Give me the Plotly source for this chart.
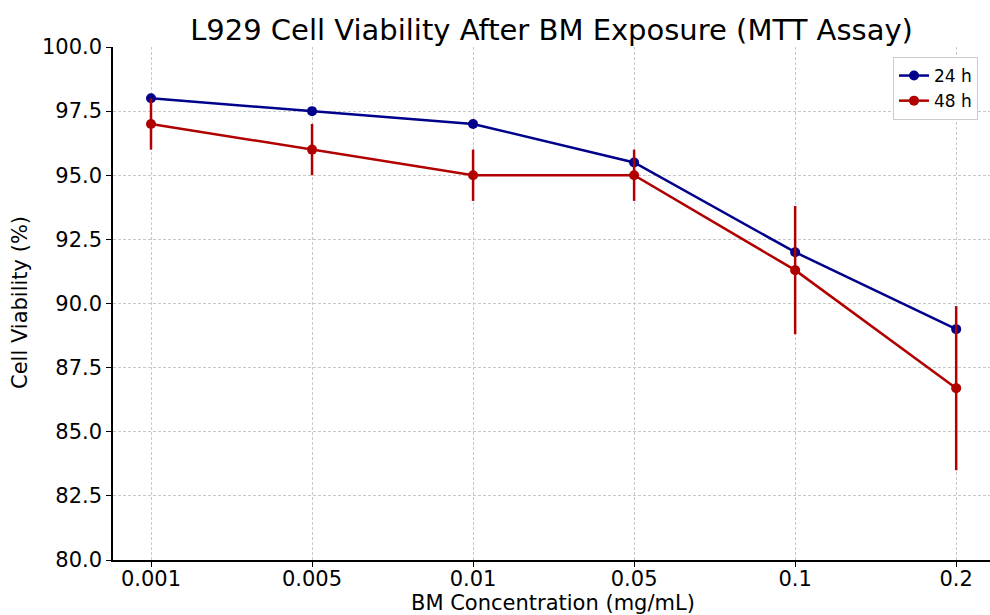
import plotly.graph_objects as go

concentrations = ["0.001", "0.005", "0.01", "0.05", "0.1", "0.2"]
viability_24h = [98.0, 97.5, 97.0, 95.5, 92.0, 89.0]
viability_48h = [97.0, 96.0, 95.0, 95.0, 91.3, 86.7]
error_48h = [1.0, 1.0, 1.0, 1.0, 2.5, 3.2]
y_ticks = [80.0, 82.5, 85.0, 87.5, 90.0, 92.5, 95.0, 97.5, 100.0]

BLUE = "#00008B"
RED = "#B00000"
FONT = "DejaVu Sans"

W, H = 990, 615
L, R, T, B = 113, 0, 47, H - 560
pw, ph = W - L - R, H - T - B


def px(sx):
    return (sx - L) / pw


def py(sy):
    return (H - B - sy) / ph


fig = go.Figure()
fig.add_trace(go.Scatter(
    x=concentrations, y=viability_24h, name="24 h", mode="lines+markers",
    line=dict(color=BLUE, width=2.5), marker=dict(color=BLUE, size=10),
))
fig.add_trace(go.Scatter(
    x=concentrations, y=viability_48h, name="48 h", mode="lines+markers",
    line=dict(color=RED, width=2.5), marker=dict(color=RED, size=10),
    error_y=dict(type="data", array=error_48h, visible=True, color=RED,
                 thickness=2.5, width=0),
))

grid = dict(showgrid=True, gridcolor="#c8c8c8", gridwidth=1, griddash="3px,2px")

fig.update_layout(
    width=W, height=H,
    margin=dict(l=L, r=R, t=T, b=B, autoexpand=False),
    plot_bgcolor="white", paper_bgcolor="white",
    font=dict(family=FONT, size=20, color="black"),
    title=dict(text="L929 Cell Viability After BM Exposure (MTT Assay)",
               font=dict(family=FONT, size=29, color="black"),
               x=0.5, xref="paper", xanchor="center",
               y=1 - 30 / H, yref="container", yanchor="middle"),
    xaxis=dict(type="category", range=[-0.236, 5.21], automargin=False,
               showline=True, linecolor="black", linewidth=1.5,
               ticks="outside", ticklen=5, tickwidth=1.2, tickcolor="black",
               ticklabelstandoff=-6,
               tickfont=dict(size=21), zeroline=False, **grid),
    yaxis=dict(range=[80, 100], tickvals=y_ticks, automargin=False,
               ticktext=[f"{v:.1f}" for v in y_ticks],
               showline=True, linecolor="black", linewidth=1.5,
               ticks="outside", ticklen=5, tickwidth=1.2, tickcolor="black",
               tickfont=dict(size=21), zeroline=False, **grid),
    legend=dict(x=px(978), xanchor="right", y=py(57), yanchor="top",
                bgcolor="white", bordercolor="#cccccc", borderwidth=1,
                font=dict(size=17)),
    annotations=[
        dict(text="Cell Viability (%)", textangle=-90, showarrow=False,
             xref="paper", yref="paper", x=px(20), y=py(303),
             xanchor="center", yanchor="middle", font=dict(size=21)),
        dict(text="BM Concentration (mg/mL)", showarrow=False,
             xref="paper", yref="paper", x=px(553), y=py(603),
             xanchor="center", yanchor="middle", font=dict(size=21)),
    ],
)

fig.write_html(
    "out.html",
    config={"displayModeBar": False},
    post_script="document.body.style.margin='0';document.body.style.overflow='hidden';",
)
